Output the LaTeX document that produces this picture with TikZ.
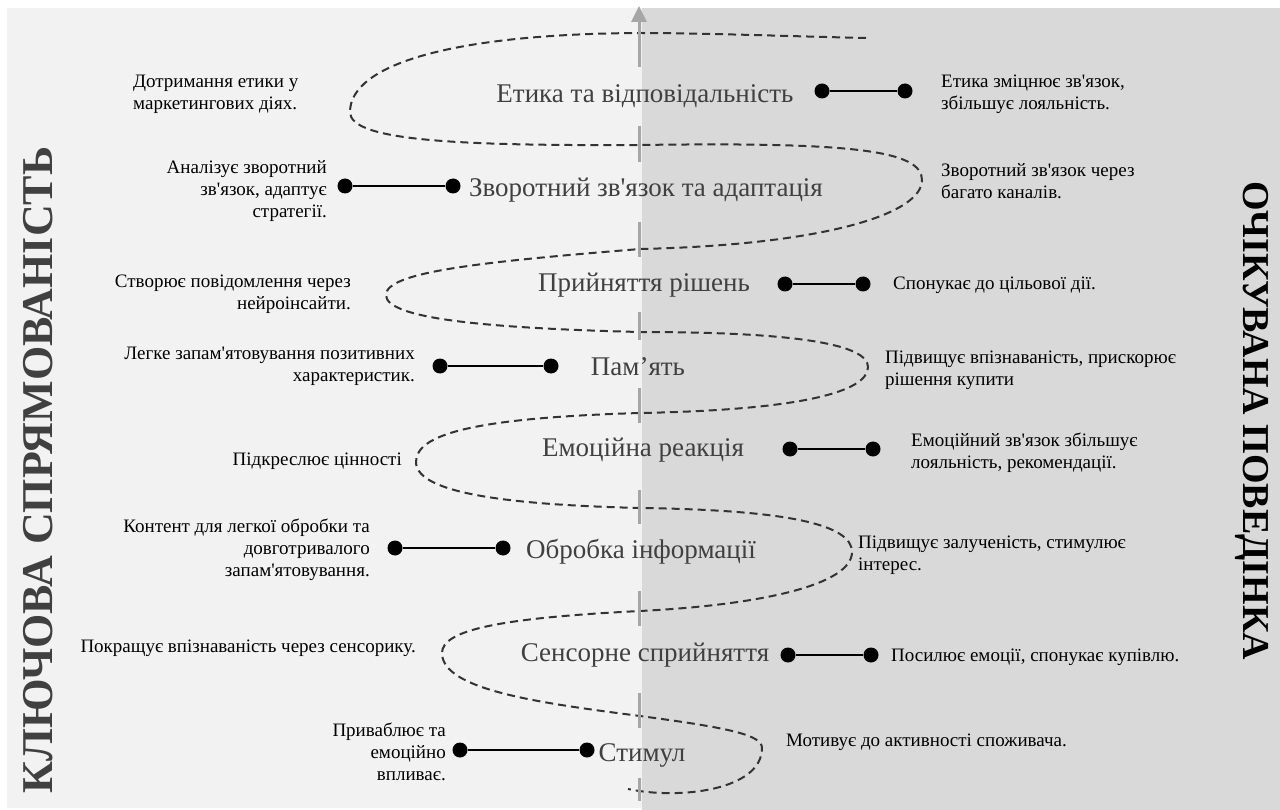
\documentclass[tikz,border=0pt]{standalone}
\usepackage{fontspec}
\newfontfamily\uafont{Liberation Serif}
\newfontfamily\uatitle{Liberation Serif Bold}
\usetikzlibrary{arrows.meta}
\definecolor{leftpane}{HTML}{F2F2F2}
\definecolor{rightpane}{HTML}{D9D9D9}
\definecolor{axisgray}{HTML}{A6A6A6}
\definecolor{labelgray}{HTML}{404040}
\definecolor{routegray}{HTML}{333333}

\begin{document}
\begin{tikzpicture}[x=1pt, y=-1pt,
        stagelabel/.style={inner sep=0pt, text=labelgray,
        font=\uafont\fontsize{27}{30}\selectfont},
        notetext/.style={inner sep=0pt, text=black,
        font=\uafont\fontsize{19}{22}\selectfont},
        sidetitle/.style={inner sep=0pt},
        enddot/.style={circle, fill=black, inner sep=0pt, minimum size=15pt},
        dotlink/.style={line width=2.7pt, black},
        axisline/.style={line width=3pt, axisgray},
        route/.style={dash pattern=on 8pt off 5pt, line width=2pt, routegray},
      ]
      % Background panes
      \fill[white] (0,0) rectangle (1280,810);
      \fill[leftpane] (7,8) rectangle (642,808);
      \fill[rightpane] (642,8) rectangle (1280,810);
      \useasboundingbox (0,0) rectangle (1280,810);

      % Serpentine route through the stages
      \draw[route] (866,38) .. controls (780,36) and (700,33) .. (640,33)
        .. controls (450,34) and (350,65) .. (350,112)
        .. controls (350,140) and (450,146) .. (640,145)
        .. controls (850,142) and (922,150) .. (922,180)
        .. controls (922,215) and (820,245) .. (640,249)
        .. controls (480,262) and (386,272) .. (386,295)
        .. controls (386,318) and (480,328) .. (640,332)
        .. controls (800,332) and (868,345) .. (868,367)
        .. controls (868,392) and (800,410) .. (640,413)
        .. controls (470,418) and (416,435) .. (416,462)
        .. controls (416,495) and (520,505) .. (640,508)
        .. controls (790,510) and (852,525) .. (852,552)
        .. controls (852,585) and (760,605) .. (640,611)
        .. controls (500,618) and (442,630) .. (442,653)
        .. controls (442,690) and (540,703) .. (640,716)
        .. controls (730,728) and (762,735) .. (762,748)
        .. controls (762,790) and (680,800) .. (628,789);

      % Central axis
      \draw[axisline, -{Triangle[width=15pt,length=16pt]}] (639,67) -- (639,6);
      \foreach \ya/\yb in {126/162, 222/257, 312/340, 388/423,
        490/524, 591/626, 693/728, 778/801}
        \draw[axisline] (639,\ya) -- (639,\yb);

      % Side titles
      \node[sidetitle, text=labelgray, rotate=90,
      font=\uatitle\fontsize{44}{48}\selectfont] (leftTitle) at (38,470)
      {КЛЮЧОВА СПРЯМОВАНІСТЬ};
      \node[sidetitle, text=black, rotate=-90,
      font=\uatitle\fontsize{38}{42}\selectfont] (rightTitle) at (1252,421)
      {ОЧІКУВАНА ПОВЕДІНКА};

      % Stages
      \node[stagelabel] (ethics) at (645,96) {Етика та відповідальність};
      \node[stagelabel] (feedback) at (646,190) {Зворотний зв'язок та адаптація};
      \node[stagelabel] (decision) at (644,285) {Прийняття рішень};
      \node[stagelabel] (memory) at (638,367) {Пам’ять};
      \node[stagelabel] (emotion) at (643,450) {Емоційна реакція};
      \node[stagelabel] (processing) at (641,552) {Обробка інформації};
      \node[stagelabel] (sensory) at (645,655) {Сенсорне сприйняття};
      \node[stagelabel] (stimulus) at (642,755) {Стимул};

      % Dot connectors
      \node[enddot] (ethicsA) at (822,91) {};
      \node[enddot] (ethicsB) at (905,91) {};
      \draw[dotlink] (ethicsA) -- (ethicsB);
      \node[enddot] (feedbackA) at (345,186) {};
      \node[enddot] (feedbackB) at (453,186) {};
      \draw[dotlink] (feedbackA) -- (feedbackB);
      \node[enddot] (decisionA) at (785,284) {};
      \node[enddot] (decisionB) at (863,284) {};
      \draw[dotlink] (decisionA) -- (decisionB);
      \node[enddot] (memoryA) at (440,366) {};
      \node[enddot] (memoryB) at (551,366) {};
      \draw[dotlink] (memoryA) -- (memoryB);
      \node[enddot] (emotionA) at (790,449) {};
      \node[enddot] (emotionB) at (873,449) {};
      \draw[dotlink] (emotionA) -- (emotionB);
      \node[enddot] (processingA) at (395,548) {};
      \node[enddot] (processingB) at (503,548) {};
      \draw[dotlink] (processingA) -- (processingB);
      \node[enddot] (sensoryA) at (788,655) {};
      \node[enddot] (sensoryB) at (871,655) {};
      \draw[dotlink] (sensoryA) -- (sensoryB);
      \node[enddot] (stimulusA) at (460,750) {};
      \node[enddot] (stimulusB) at (587,750) {};
      \draw[dotlink] (stimulusA) -- (stimulusB);

      % Left notes
      \node[notetext, align=left, anchor=west] (ethicsL) at (133,94)
      {Дотримання етики у\\маркетингових діях.};
      \node[notetext, align=right, anchor=east] (feedbackL) at (327,191)
      {Аналізує зворотний\\зв'язок, адаптує\\стратегії.};
      \node[notetext, align=right, anchor=east] (decisionL) at (351,294)
      {Створює повідомлення через\\нейроінсайти.};
      \node[notetext, align=right, anchor=east] (memoryL) at (415,366)
      {Легке запам'ятовування позитивних\\характеристик.};
      \node[notetext, anchor=east] (emotionL) at (402,461)
      {Підкреслює цінності};
      \node[notetext, align=right, anchor=east] (processingL) at (370,550)
      {Контент для легкої обробки та\\довготривалого\\запам'ятовування.};
      \node[notetext, anchor=east] (sensoryL) at (416,648)
      {Покращує впізнаваність через сенсорику.};
      \node[notetext, align=right, anchor=east] (stimulusL) at (446,752)
      {Приваблює та\\емоційно\\впливає.};

      % Right notes
      \node[notetext, align=left, anchor=west] (ethicsR) at (941,94)
      {Етика зміцнює зв'язок,\\збільшує лояльність.};
      \node[notetext, align=left, anchor=west] (feedbackR) at (941,181)
      {Зворотний зв'язок через\\багато каналів.};
      \node[notetext, anchor=west] (decisionR) at (893,285)
      {Спонукає до цільової дії.};
      \node[notetext, align=left, anchor=west] (memoryR) at (885,370)
      {Підвищує впізнаваність, прискорює\\рішення купити};
      \node[notetext, align=left, anchor=west] (emotionR) at (911,453)
      {Емоційний зв'язок збільшує\\лояльність, рекомендації.};
      \node[notetext, align=left, anchor=west] (processingR) at (858,555)
      {Підвищує залученість, стимулює\\інтерес.};
      \node[notetext, anchor=west] (sensoryR) at (891,657)
      {Посилює емоції, спонукає купівлю.};
      \node[notetext, anchor=west] (stimulusR) at (786,742)
      {Мотивує до активності споживача.};
    \end{tikzpicture}
\end{document}
